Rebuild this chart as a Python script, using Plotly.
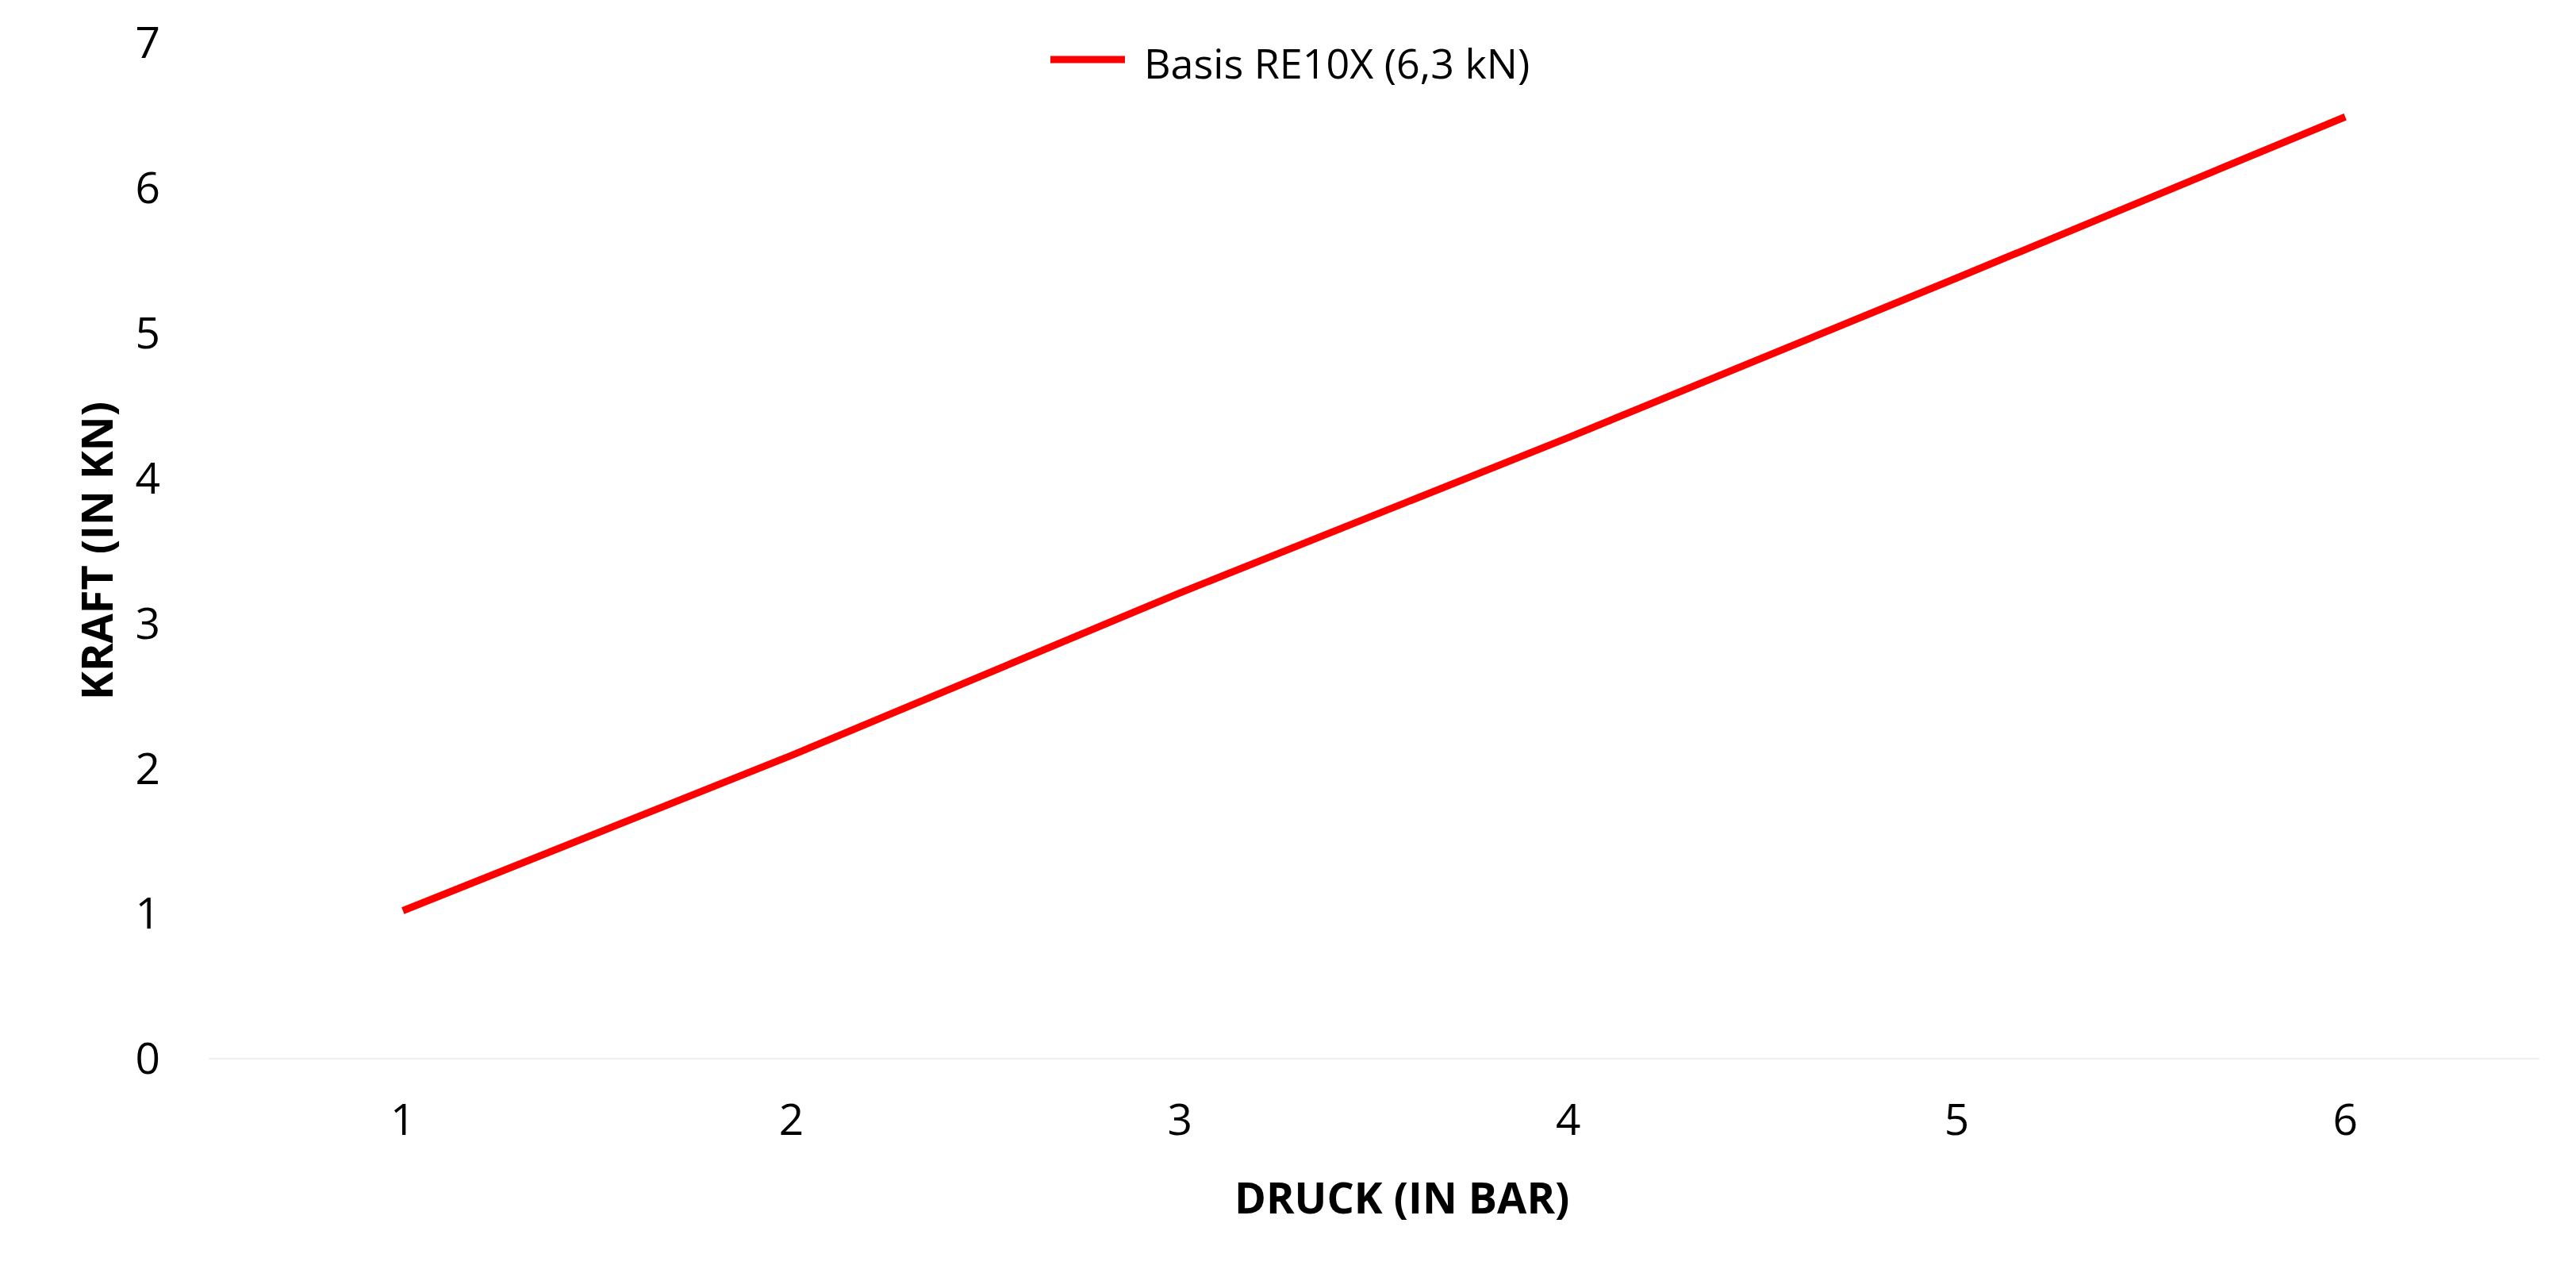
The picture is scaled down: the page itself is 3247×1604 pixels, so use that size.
import plotly.graph_objects as go

# Data
druck_bar = [1, 2, 3, 4, 5, 6]
kraft_kn = [1.02, 2.09, 3.21, 4.28, 5.38, 6.49]
series_name = "Basis RE10X (6,3 kN)"
y_ticks = [0, 1, 2, 3, 4, 5, 6, 7]
x_title = "DRUCK (IN BAR)"
y_title = "KRAFT (IN KN)"

W, H = 3247, 1604
L, R, T, B = 255, 54, 46, 278
PW, PH = W - L - R, H - T - B


def px_x(px):
    return (px - L) / PW


def px_y(py):
    return 1 - (py - T) / PH


font_family = "Open Sans"
RED = "#ff0000"

fig = go.Figure()
fig.add_trace(go.Scatter(
    x=druck_bar, y=kraft_kn, mode="lines", name=series_name,
    line=dict(color=RED, width=9),
    showlegend=False,
))

# Legend drawn as layout decoration (long line symbol like the reference)
fig.add_shape(type="line", xref="paper", yref="paper",
              x0=px_x(1316), x1=px_x(1410), y0=px_y(67), y1=px_y(67),
              line=dict(color=RED, width=9))
fig.add_annotation(xref="paper", yref="paper", x=px_x(1432), y=px_y(70),
                   xanchor="left", yanchor="middle", showarrow=False,
                   text=series_name,
                   font=dict(family=font_family, size=52, color="#000000"))

# X axis title placed like the reference
fig.add_annotation(xref="paper", yref="paper", x=px_x(1759), y=px_y(1500),
                   xanchor="center", yanchor="middle", showarrow=False,
                   text="<b>" + x_title + "</b>",
                   font=dict(family=font_family, size=54, color="#000000"))

fig.update_layout(
    width=W, height=H,
    margin=dict(l=L, r=R, t=T, b=B, autoexpand=False),
    paper_bgcolor="white", plot_bgcolor="white",
    font=dict(family=font_family, size=54, color="#000000"),
    showlegend=False,
    xaxis=dict(
        range=[0.5, 6.5],
        tickmode="array", tickvals=druck_bar, ticktext=[str(v) for v in druck_bar],
        showgrid=False, zeroline=False, showline=False, ticks="",
        ticklabelstandoff=40,
        tickfont=dict(family=font_family, size=55, color="#000000"),
        automargin=False,
    ),
    yaxis=dict(
        range=[0, 7],
        tickmode="array", tickvals=y_ticks, ticktext=[str(v) for v in y_ticks],
        showgrid=False, zeroline=True, zerolinecolor="#f0f0f0", zerolinewidth=2,
        showline=False, ticks="",
        ticklabelstandoff=60,
        tickfont=dict(family=font_family, size=55, color="#000000"),
        title=dict(text="<b>" + y_title + "</b>", standoff=10,
                   font=dict(family=font_family, size=54, color="#000000")),
        automargin=False,
    ),
)

fig.write_html("out.html")
